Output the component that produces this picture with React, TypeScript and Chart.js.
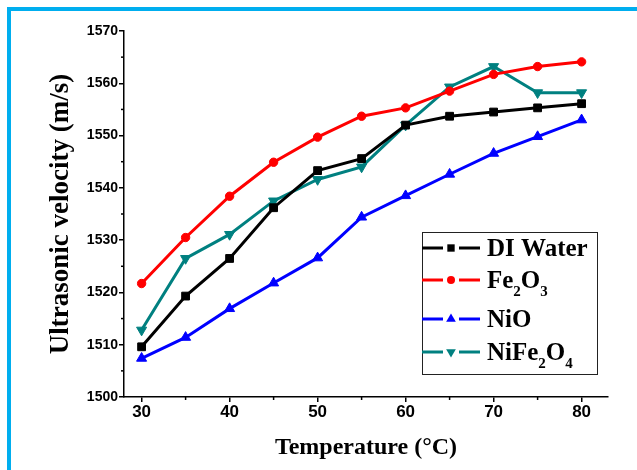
import React, { useEffect, useRef } from 'react';
import { Chart, registerables } from 'chart.js';

Chart.register(...registerables);

const temperatures = [30, 35, 40, 45, 50, 55, 60, 65, 70, 75, 80];
const diWater = [1509.6, 1519.3, 1526.5, 1536.2, 1543.3, 1545.6, 1552.0, 1553.7, 1554.5, 1555.3, 1556.1];
const fe2o3 = [1521.7, 1530.5, 1538.4, 1544.9, 1549.7, 1553.7, 1555.3, 1558.5, 1561.7, 1563.2, 1564.1];
const nio = [1507.4, 1511.4, 1516.9, 1521.8, 1526.6, 1534.4, 1538.5, 1542.6, 1546.6, 1549.8, 1553.0];
const nife2o4 = [1512.8, 1526.5, 1531.1, 1537.5, 1541.6, 1544.0, 1552.0, 1559.3, 1563.2, 1558.2, 1558.2];

const seriesLabels = ['DI Water', 'Fe2O3', 'NiO', 'NiFe2O4'];
const seriesColors = ['#000000', '#ff0000', '#0000ff', '#008080'];

const xTicks = [30, 40, 50, 60, 70, 80];
const xMinorTicks = [35, 45, 55, 65, 75];
const yTicks = [1500, 1510, 1520, 1530, 1540, 1550, 1560, 1570];
const yMinorTicks = [1505, 1515, 1525, 1535, 1545, 1555, 1565];

const toPoints = (vals: number[]) => temperatures.map((t, i) => ({ x: t, y: vals[i] }));

function drawMarker(ctx: CanvasRenderingContext2D, style: string, x: number, y: number, r: number, color: string) {
  ctx.save();
  ctx.fillStyle = color;
  ctx.beginPath();
  if (style === 'rect') {
    const s = r * Math.SQRT1_2;
    ctx.rect(x - s, y - s, 2 * s, 2 * s);
  } else if (style === 'circle') {
    ctx.arc(x, y, r, 0, Math.PI * 2);
  } else if (style === 'up') {
    ctx.moveTo(x, y - r);
    ctx.lineTo(x + r * 0.866, y + r * 0.5);
    ctx.lineTo(x - r * 0.866, y + r * 0.5);
    ctx.closePath();
  } else {
    ctx.moveTo(x, y + r);
    ctx.lineTo(x + r * 0.866, y - r * 0.5);
    ctx.lineTo(x - r * 0.866, y - r * 0.5);
    ctx.closePath();
  }
  ctx.fill();
  ctx.restore();
}

const legendStyles = ['rect', 'circle', 'up', 'down'];
const legendRadii = [5.2, 4, 5.6, 5.6];

const minorTicksPlugin = {
  id: 'minorTicks',
  afterDraw(chart: any) {
    const { ctx, scales } = chart;
    const x = scales.x;
    const y = scales.y;
    ctx.save();
    ctx.strokeStyle = '#000';
    ctx.lineWidth = 1.5;
    xMinorTicks.forEach((v) => {
      const px = x.getPixelForValue(v);
      ctx.beginPath();
      ctx.moveTo(px, chart.chartArea.bottom);
      ctx.lineTo(px, chart.chartArea.bottom + 3);
      ctx.stroke();
    });
    yMinorTicks.forEach((v) => {
      const py = y.getPixelForValue(v);
      ctx.beginPath();
      ctx.moveTo(chart.chartArea.left, py);
      ctx.lineTo(chart.chartArea.left - 3, py);
      ctx.stroke();
    });
    ctx.restore();
  },
};

const customLegendPlugin = {
  id: 'customLegend',
  afterDraw(chart: any) {
    const { ctx } = chart;
    const boxLeft = 422;
    const boxTop = 232;
    const boxW = 175;
    const boxH = 142;
    const rowY = [248, 280, 319, 352];
    ctx.save();
    ctx.fillStyle = '#ffffff';
    ctx.fillRect(boxLeft, boxTop, boxW, boxH);
    ctx.strokeStyle = '#222';
    ctx.lineWidth = 1;
    ctx.strokeRect(boxLeft + 0.5, boxTop + 0.5, boxW, boxH);
    chart.data.datasets.forEach((ds: any, i: number) => {
      const ly = rowY[i];
      const color = ds.borderColor;
      ctx.strokeStyle = color;
      ctx.lineWidth = 3;
      ctx.beginPath();
      ctx.moveTo(boxLeft, ly);
      ctx.lineTo(boxLeft + 21, ly);
      ctx.moveTo(boxLeft + 37, ly);
      ctx.lineTo(boxLeft + 58, ly);
      ctx.stroke();
      drawMarker(ctx, legendStyles[i], boxLeft + 29, ly, legendRadii[i], color);
      const label: string = ds.label;
      let tx = 487;
      const base = ly + 8;
      ctx.fillStyle = '#000';
      ctx.textBaseline = 'alphabetic';
      ctx.textAlign = 'left';
      const parts = label.match(/(\d+|\D+)/g) || [];
      parts.forEach((p) => {
        if (/^\d+$/.test(p)) {
          ctx.font = 'bold 15px "Liberation Serif", "Times New Roman", serif';
          ctx.fillText(p, tx, base + 8);
          tx += ctx.measureText(p).width;
        } else {
          ctx.font = 'bold 25px "Liberation Serif", "Times New Roman", serif';
          ctx.fillText(p, tx, base);
          tx += ctx.measureText(p).width;
        }
      });
    });
    ctx.restore();
  },
};

export default function App() {
  const canvasRef = useRef<HTMLCanvasElement | null>(null);

  useEffect(() => {
    if (!canvasRef.current) return;
    const pointStyles = ['rect', 'circle', 'triangle', 'triangle'];
    const rotations = [0, 0, 0, 180];
    const radii = [5.5, 4.2, 5.8, 5.8];
    const series = [diWater, fe2o3, nio, nife2o4];
    const chart = new Chart(canvasRef.current, {
      type: 'line',
      data: {
        datasets: series.map((vals, i) => ({
          label: seriesLabels[i],
          data: toPoints(vals),
          borderColor: seriesColors[i],
          backgroundColor: seriesColors[i],
          borderWidth: 3,
          pointStyle: pointStyles[i] as any,
          pointRotation: rotations[i],
          pointRadius: radii[i],
          pointBorderWidth: 1,
          pointBackgroundColor: seriesColors[i],
          pointBorderColor: seriesColors[i],
          tension: 0,
          fill: false,
        })),
      },
      options: {
        animation: false,
        responsive: false,
        maintainAspectRatio: false,
        layout: { padding: { top: 31, right: 29, left: 0, bottom: 0 } },
        plugins: {
          legend: { display: false },
          tooltip: { enabled: false },
        },
        scales: {
          x: {
            type: 'linear',
            min: 28,
            max: 83,
            afterBuildTicks: (s: any) => {
              s.ticks = xTicks.map((v) => ({ value: v }));
            },
            afterFit: (s: any) => {
              s.height = 73;
              s.paddingLeft = 0;
              s.paddingRight = 0;
              s.paddingTop = 0;
              s.paddingBottom = 0;
            },
            grid: { drawOnChartArea: false, drawTicks: true, tickLength: 5, color: '#000', lineWidth: 1.5 },
            border: { display: true, color: '#000', width: 1.5 },
            ticks: {
              color: '#000',
              padding: 0,
              maxRotation: 0,
              autoSkip: false,
              callback: (v: any) => String(v),
              font: { family: '"Liberation Sans", Arial, sans-serif', weight: 'bold', size: 17 },
            },
            title: {
              display: true,
              text: 'Temperature (°C)',
              color: '#000',
              font: { family: '"Liberation Serif", "Times New Roman", serif', weight: 'bold', size: 24 },
              padding: { top: 0, bottom: 8 },
            },
          },
          y: {
            type: 'linear',
            min: 1500,
            max: 1570,
            afterBuildTicks: (s: any) => {
              s.ticks = yTicks.map((v) => ({ value: v }));
            },
            afterFit: (s: any) => {
              s.width = 124;
              s.paddingLeft = 0;
              s.paddingRight = 0;
              s.paddingTop = 0;
              s.paddingBottom = 0;
            },
            grid: { drawOnChartArea: false, drawTicks: true, tickLength: 5, color: '#000', lineWidth: 1.5 },
            border: { display: true, color: '#000', width: 1.5 },
            ticks: {
              color: '#000',
              padding: 1,
              autoSkip: false,
              callback: (v: any) => String(v),
              font: { family: '"Liberation Sans", Arial, sans-serif', weight: 'bold', size: 14 },
            },
            title: {
              display: true,
              text: 'Ultrasonic velocity (m/s)',
              color: '#000',
              font: { family: '"Liberation Serif", "Times New Roman", serif', weight: 'bold', size: 27 },
              padding: { top: 45, bottom: 0 },
            },
          },
        },
      },
      plugins: [minorTicksPlugin, customLegendPlugin],
    });
    return () => chart.destroy();
  }, []);

  return (
    <div style={{ position: 'fixed', left: 0, top: 0, width: 637, height: 470, overflow: 'hidden', background: '#fff' }}>
      <div
        style={{
          position: 'absolute',
          left: 7,
          top: 7,
          width: 800,
          height: 700,
          borderTop: '4px solid #00aeef',
          borderLeft: '4px solid #00aeef',
        }}
      />
      <canvas ref={canvasRef} width={637} height={470} style={{ position: 'absolute', left: 0, top: 0 }} />
    </div>
  );
}
